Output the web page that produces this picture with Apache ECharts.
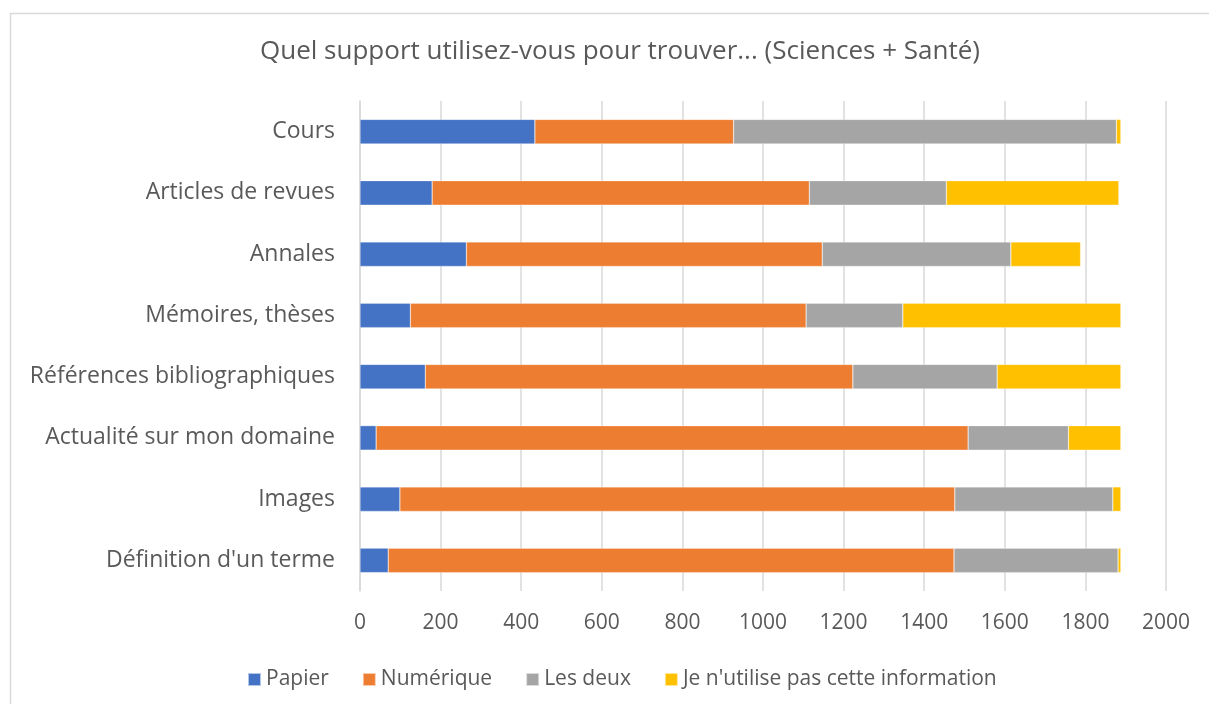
<!DOCTYPE html>
<html>
<head>
<meta charset="utf-8">
<script src="https://cdn.jsdelivr.net/npm/echarts@6/dist/echarts.min.js"></script>
<style>
html, body { margin: 0; padding: 0; background: #fff; }
#chart { width: 1209px; height: 704px; }
</style>
</head>
<body>
<div id="chart"></div>
<script>
// categories, bottom to top (yAxis category order)
var categories = ['Définition d\'un terme', 'Images', 'Actualité sur mon domaine', 'Références bibliographiques',
	'Mémoires, thèses', 'Annales', 'Articles de revues', 'Cours'];
var papier = [70, 99, 40, 162, 125, 264, 179, 434];
var numerique = [1404, 1377, 1469, 1061, 982, 883, 936, 493];
var lesDeux = [407, 392, 249, 358, 240, 468, 340, 950];
var pasUtilise = [7, 20, 130, 307, 541, 173, 428, 11];
var xTicks = [0, 200, 400, 600, 800, 1000, 1200, 1400, 1600, 1800, 2000];

var seriesNames = ['Papier', 'Numérique', 'Les deux', 'Je n\'utilise pas cette information'];
var seriesData = [papier, numerique, lesDeux, pasUtilise];
var colors = ['#4472c4', '#ed7d31', '#a5a5a5', '#ffc000'];
var font = 'Open Sans';

var chart = echarts.init(document.getElementById('chart'));
var series = [];
for (var i = 0; i < seriesNames.length; i++) {
	series.push({
		name: seriesNames[i],
		type: 'bar',
		stack: 'total',
		barWidth: '40%',
		itemStyle: { color: colors[i], borderColor: 'rgba(255,255,255,0.6)', borderWidth: 0.5 },
		data: seriesData[i]
	});
}

chart.setOption({
	animation: false,
	color: colors,
	graphic: [{
		type: 'rect',
		shape: { x: 10.5, y: 13.5, width: 1300, height: 800 },
		style: { fill: 'none', stroke: '#d9d9d9', lineWidth: 1.5 },
		silent: true
	}],
	title: {
		text: 'Quel support utilisez-vous pour trouver... (Sciences + Santé)',
		left: 615,
		textAlign: 'center',
		top: 34,
		textStyle: { fontFamily: font, fontSize: 26, fontWeight: 'normal', color: '#595959' }
	},
	legend: {
		bottom: 9,
		left: 242,
		itemWidth: 13,
		itemHeight: 13,
		itemGap: 33,
		icon: 'rect',
		textStyle: { fontFamily: font, fontSize: 21, color: '#595959' },
		data: seriesNames
	},
	grid: { left: 360, right: 43, top: 101, bottom: 113, containLabel: false },
	xAxis: {
		type: 'value',
		min: xTicks[0],
		max: xTicks[xTicks.length - 1],
		interval: 200,
		axisLine: { show: false },
		axisTick: { show: false },
		axisLabel: {
			fontFamily: font, fontSize: 21, color: '#595959', margin: 22,
			formatter: function (v) { return String(v); }
		},
		splitLine: { lineStyle: { color: '#d9d9d9', width: 1.5 } }
	},
	yAxis: {
		type: 'category',
		data: categories,
		axisLine: { lineStyle: { color: '#d9d9d9', width: 1.5 } },
		axisTick: { show: false },
		axisLabel: { fontFamily: font, fontSize: 23, color: '#595959', margin: 25 }
	},
	series: series
});
</script>
</body>
</html>
